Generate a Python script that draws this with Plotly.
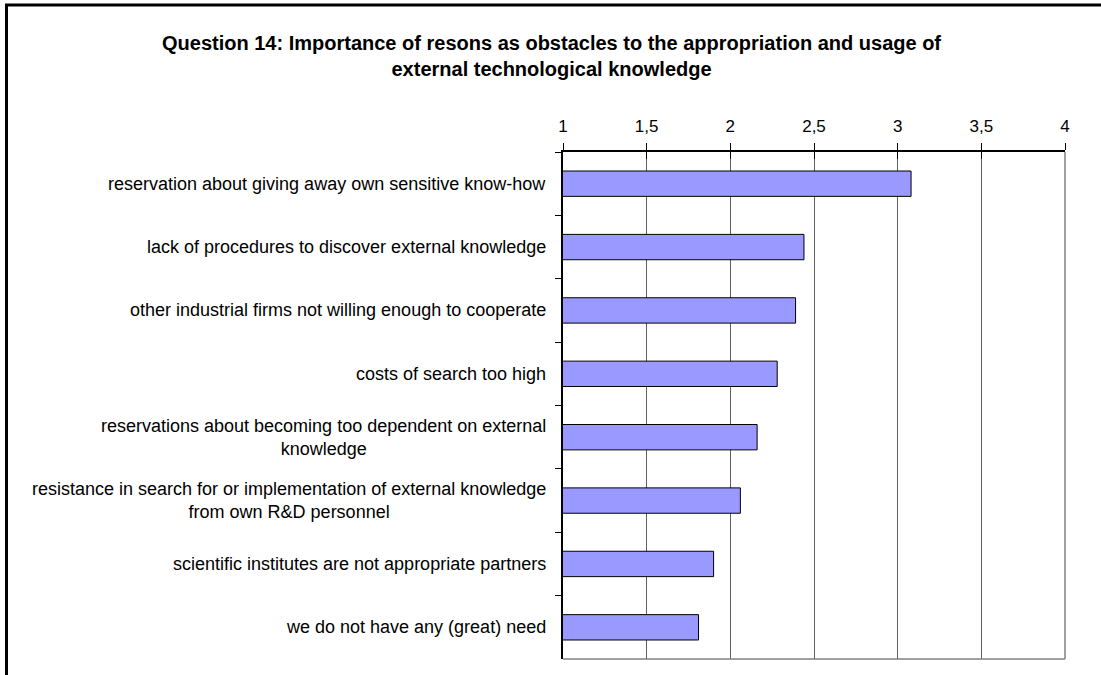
import plotly.graph_objects as go

categories = [
    "reservation about giving away own sensitive know-how",
    "lack of procedures to discover external knowledge",
    "other industrial firms not willing enough to cooperate",
    "costs of search too high",
    "reservations about becoming too dependent on external<br>knowledge",
    "resistance in search for or implementation of external knowledge<br>from own R&D personnel",
    "scientific institutes are not appropriate partners",
    "we do not have any (great) need",
]
values = [3.08, 2.44, 2.39, 2.28, 2.16, 2.06, 1.90, 1.81]
tick_vals = [1, 1.5, 2, 2.5, 3, 3.5, 4]
tick_text = ["1", "1,5", "2", "2,5", "3", "3,5", "4"]
title_text = ("Question 14: Importance of resons as obstacles to the appropriation and usage of"
              "<br>external technological knowledge")

W, H = 1101, 675
ML, MR, MT, MB = 563, 36, 152, 16
PW = W - ML - MR
PH = H - MT - MB

font_family = "Liberation Sans, Arial, sans-serif"


def px_x(p):
    return (p - ML) / PW


def px_y(p):
    return (H - MB - p) / PH


fig = go.Figure()
fig.add_trace(go.Bar(
    x=values, y=categories, orientation="h", width=0.4,
    marker=dict(color="#9999FF", line=dict(color="black", width=1)),
    showlegend=False, hoverinfo="x+y",
))
fig.add_trace(go.Scatter(x=[1, 4], y=[categories[0], categories[0]], xaxis="x2",
                         mode="markers", marker=dict(opacity=0), showlegend=False,
                         hoverinfo="skip"))

annotations = []
for c in categories:
    annotations.append(dict(
        x=px_x(548), xref="paper", y=c, yref="y", text=c, showarrow=False,
        xanchor="right", yanchor="middle", align="center",
        font=dict(family=font_family, size=18, color="black"),
    ))
annotations.append(dict(
    x=px_x(551), xref="paper", y=px_y(56), yref="paper",
    text="<b>" + title_text + "</b>", showarrow=False,
    xanchor="center", yanchor="middle", align="center",
    font=dict(family=font_family, size=20, color="black"),
))

shapes = [
    # outer frame (left and top visible)
    dict(type="rect", xref="paper", yref="paper",
         x0=px_x(6.5), x1=px_x(W + 60), y0=px_y(H + 60), y1=px_y(5),
         line=dict(color="black", width=3), fillcolor="rgba(0,0,0,0)", layer="above"),
    # plot area border bottom / right
    dict(type="line", xref="paper", yref="paper", x0=0, x1=1, y0=0, y1=0,
         line=dict(color="#808080", width=1.5)),
    dict(type="line", xref="paper", yref="paper", x0=1, x1=1, y0=0, y1=1,
         line=dict(color="#808080", width=1.5)),
]

fig.update_layout(
    width=W, height=H,
    margin=dict(l=ML, r=MR, t=MT, b=MB, autoexpand=False),
    paper_bgcolor="white", plot_bgcolor="white",
    font=dict(family=font_family, size=17, color="black"),
    annotations=annotations,
    shapes=shapes,
    xaxis=dict(
        side="top", range=[1, 4], tickvals=tick_vals, ticktext=tick_text,
        showline=True, linecolor="black", linewidth=1.5,
        ticks="outside", ticklen=7, tickwidth=1, tickcolor="black",
        ticklabelstandoff=4,
        showgrid=True, gridcolor="#606060", gridwidth=1, zeroline=False,
        tickfont=dict(family=font_family, size=17, color="black"),
        fixedrange=True,
    ),
    xaxis2=dict(
        overlaying="x", side="top", range=[1, 4], tickvals=tick_vals,
        showticklabels=False, ticks="inside", ticklen=7, tickwidth=1, tickcolor="black",
        showgrid=False, showline=False, zeroline=False, fixedrange=True,
    ),
    yaxis=dict(
        type="category", categoryorder="array", categoryarray=categories,
        autorange="reversed", showticklabels=False,
        showline=True, linecolor="black", linewidth=1.5,
        ticks="outside", tickson="boundaries", ticklen=6, tickcolor="black",
        showgrid=False, zeroline=False, fixedrange=True,
    ),
)

fig.write_html("out.html")
